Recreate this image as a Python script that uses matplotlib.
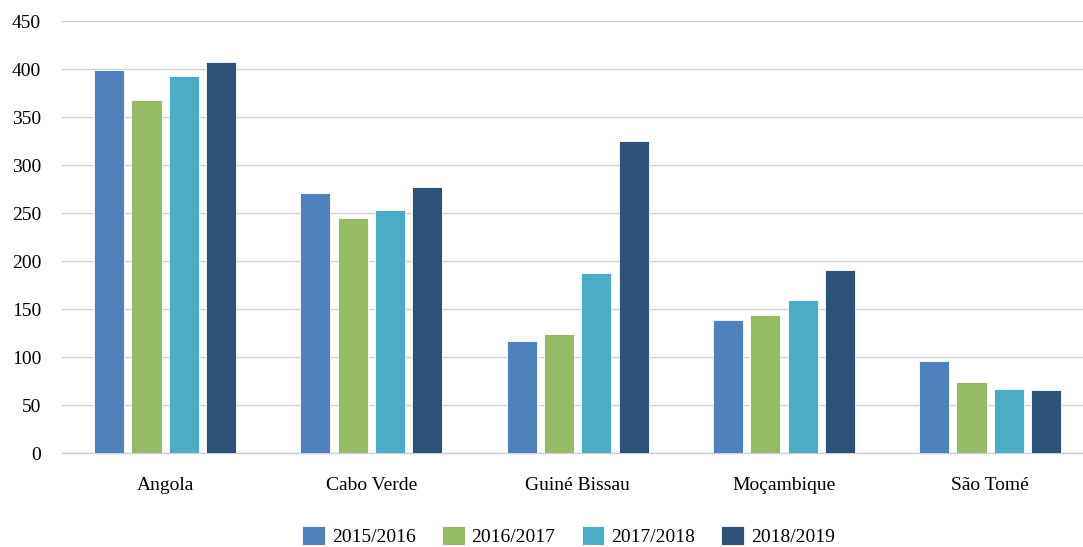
import matplotlib
matplotlib.use("Agg")
import matplotlib.pyplot as plt
import numpy as np

categories = ["Angola", "Cabo Verde", "Guiné Bissau", "Moçambique", "São Tomé"]
series_names = ["2015/2016", "2016/2017", "2017/2018", "2018/2019"]
v2015 = [399, 271, 117, 139, 96]
v2016 = [368, 245, 124, 144, 74]
v2017 = [393, 253, 188, 159, 67]
v2018 = [407, 277, 325, 191, 66]
colors = ["#4F81BD", "#95BB65", "#4BACC6", "#2C5277"]
yticks = [0, 50, 100, 150, 200, 250, 300, 350, 400, 450]

plt.rcParams['font.family'] = ['Liberation Serif', 'DejaVu Serif']

fig = plt.figure(figsize=(10.83, 5.47), dpi=100)
ax = fig.add_axes([62/1083, 1 - 453/547, (1083 - 62)/1083, (453 - 21)/547])

x = np.arange(len(categories))
step = 0.181
width = 0.146
data = [v2015, v2016, v2017, v2018]
for i, (vals, name, c) in enumerate(zip(data, series_names, colors)):
    ax.bar(x + (i - 1.5) * step, vals, width, color=c, label=name,
           edgecolor="white", linewidth=0.6, zorder=3)

ax.set_xlim(-0.5, len(categories) - 0.55)
ax.set_ylim(0, 450)
ax.set_yticks(yticks)
ax.set_yticklabels([str(t) for t in yticks], fontsize=14)
ax.set_xticks(x)
ax.set_xticklabels(categories, fontsize=14)
ax.tick_params(axis='both', length=0)
ax.tick_params(axis='x', pad=17)
ax.tick_params(axis='y', pad=15)
ax.yaxis.grid(True, color="#D0D0D0", linewidth=1.0, zorder=0)
for s in ["top", "right", "left"]:
    ax.spines[s].set_visible(False)
ax.spines["bottom"].set_color("#D0D0D0")
ax.spines["bottom"].set_linewidth(1.0)

fig.legend(loc="lower center", bbox_to_anchor=(0.525, -0.016), ncol=4, frameon=False,
           fontsize=14, handlelength=1.18, handleheight=1.13, columnspacing=1.34,
           handletextpad=0.35, borderpad=0.0)

fig.savefig("out.png", dpi=100)
